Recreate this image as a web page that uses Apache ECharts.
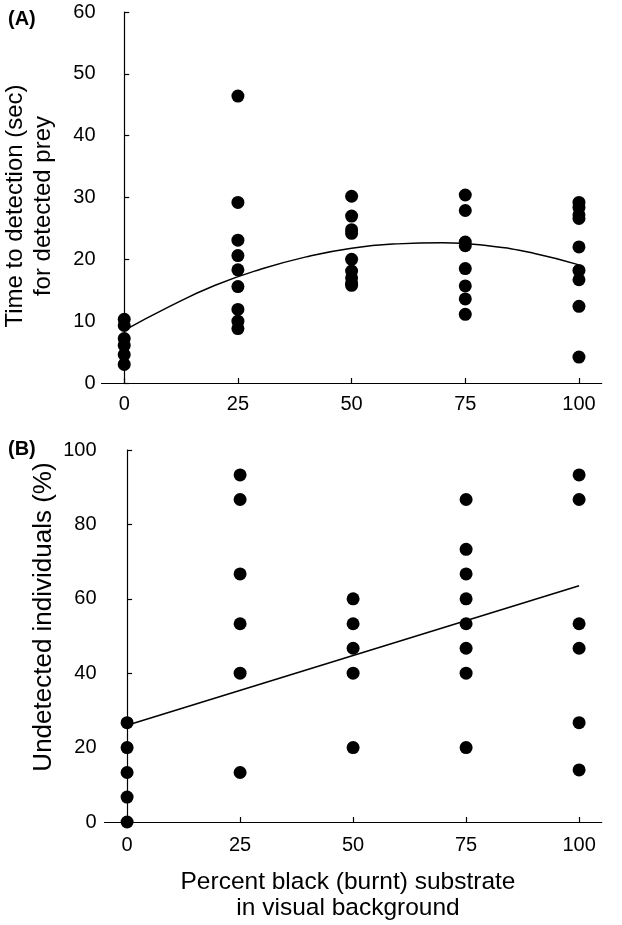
<!DOCTYPE html>
<html>
<head>
<meta charset="utf-8">
<script src="https://cdn.jsdelivr.net/npm/echarts@6/dist/echarts.min.js"></script>
<style>
html,body{margin:0;padding:0;background:#fff;}
#chart{width:622px;height:925px;}
</style>
</head>
<body>
<div id="chart"></div>
<script>
// ---- data ----
const xTicks = [0, 25, 50, 75, 100];

// Panel A: time to detection (sec) for detected prey
const timeAt0   = [10.3, 9.3, 7.2, 6.1, 4.6, 3.0];
const timeAt25  = [46.4, 29.2, 23.1, 20.6, 18.3, 15.6, 11.9, 10.0, 8.8];
const timeAt50  = [30.2, 27.0, 24.8, 24.2, 20.0, 18.1, 17.0, 16.1, 15.8];
const timeAt75  = [30.4, 27.9, 22.8, 22.2, 18.5, 15.7, 13.6, 11.1];
const timeAt100 = [29.2, 28.4, 27.2, 26.6, 22.0, 18.2, 16.7, 12.4, 4.2];

// Panel A fitted curve
const fitAx = [0, 10, 20, 30, 40, 50, 60, 70, 80, 90, 100];
const fitAy = [8.5, 12.4, 15.8, 18.4, 20.4, 21.8, 22.5, 22.7, 22.2, 21.0, 19.1];

// Panel B: undetected individuals (%)
const undetAt0   = [26.7, 20.0, 13.3, 6.7, 0.0];
const undetAt25  = [93.3, 86.7, 66.7, 53.3, 40.0, 13.3];
const undetAt50  = [60.0, 53.3, 46.7, 40.0, 20.0];
const undetAt75  = [86.7, 73.3, 66.7, 60.0, 53.3, 46.7, 40.0, 20.0];
const undetAt100 = [93.3, 86.7, 53.3, 46.7, 26.7, 14.0];

// Panel B fitted line
const fitBx = [0, 100];
const fitBy = [26.0, 63.5];

// ---- build ----
function pairs(x, ys) { return ys.map(v => [x, v]); }
const groupsA = [timeAt0, timeAt25, timeAt50, timeAt75, timeAt100];
const groupsB = [undetAt0, undetAt25, undetAt50, undetAt75, undetAt100];
const ptsA = [].concat(...groupsA.map((g, i) => pairs(xTicks[i], g)));
const ptsB = [].concat(...groupsB.map((g, i) => pairs(xTicks[i], g)));
const curveA = fitAx.map((x, i) => [x, fitAy[i]]);
const lineB = fitBx.map((x, i) => [x, fitBy[i]]);

const FONT = '"Liberation Sans", Arial, Helvetica, sans-serif';
const tickFont = { color: '#000', fontSize: 20, fontFamily: FONT };
const axisLine = { show: true, lineStyle: { color: '#000', width: 1.2 } };

function xAxis(gridIndex, margin) {
  return {
    type: 'value', gridIndex, min: -5, max: 105,
    axisLine, splitLine: { show: false },
    axisTick: { show: true, inside: true, length: 5, customValues: xTicks, lineStyle: { color: '#000', width: 1.2 } },
    axisLabel: Object.assign({ margin, customValues: xTicks }, tickFont)
  };
}
function yAxis(gridIndex, max, interval, margin) {
  return {
    type: 'value', gridIndex, min: 0, max, interval,
    axisLine, splitLine: { show: false },
    axisTick: { show: true, inside: true, length: 5, lineStyle: { color: '#000', width: 1.2 } },
    axisLabel: Object.assign({ margin }, tickFont)
  };
}

const dot = { color: '#000', opacity: 1 };

const chart = echarts.init(document.getElementById('chart'), null, { renderer: 'canvas' });
chart.setOption({
  backgroundColor: '#fff',
  animation: false,
  grid: [
    { left: 101.5, right: 20.3, top: 12, height: 371 },
    { left: 104.5, right: 20.3, top: 450, height: 372 }
  ],
  xAxis: [xAxis(0, 11), xAxis(1, 13)],
  yAxis: [yAxis(0, 60, 10, 6), yAxis(1, 100, 20, 8)],
  series: [
    { type: 'scatter', xAxisIndex: 0, yAxisIndex: 0, data: ptsA, symbol: 'circle', symbolSize: 13,
      itemStyle: dot, emphasis: { disabled: true }, z: 3 },
    { type: 'line', xAxisIndex: 0, yAxisIndex: 0, data: curveA, smooth: true, symbol: 'none',
      lineStyle: { color: '#000', width: 1.5 }, z: 2 },
    { type: 'scatter', xAxisIndex: 1, yAxisIndex: 1, data: ptsB, symbol: 'circle', symbolSize: 13,
      itemStyle: dot, emphasis: { disabled: true }, z: 3, clip: false },
    { type: 'line', xAxisIndex: 1, yAxisIndex: 1, data: lineB, symbol: 'none',
      lineStyle: { color: '#000', width: 1.5 }, z: 2 }
  ],
  graphic: [
    { type: 'text', left: 8, top: 9, style: { text: '(A)', font: 'bold 20px ' + FONT, fill: '#000' } },
    { type: 'text', left: 8, top: 439, style: { text: '(B)', font: 'bold 20px ' + FONT, fill: '#000' } },
    { type: 'text', x: 15, y: 206, rotation: Math.PI / 2,
      style: { text: 'Time to detection (sec)', font: '24px ' + FONT, fill: '#000', align: 'center', verticalAlign: 'middle' } },
    { type: 'text', x: 43, y: 206, rotation: Math.PI / 2,
      style: { text: 'for detected prey', font: '24px ' + FONT, fill: '#000', align: 'center', verticalAlign: 'middle' } },
    { type: 'text', x: 44, y: 617, rotation: Math.PI / 2,
      style: { text: 'Undetected individuals (%)', font: '26px ' + FONT, fill: '#000', align: 'center', verticalAlign: 'middle' } },
    { type: 'text', x: 348, y: 882,
      style: { text: 'Percent black (burnt) substrate', font: '24.5px ' + FONT, fill: '#000', align: 'center', verticalAlign: 'middle' } },
    { type: 'text', x: 348, y: 908,
      style: { text: 'in visual background', font: '24.5px ' + FONT, fill: '#000', align: 'center', verticalAlign: 'middle' } }
  ]
});
</script>
</body>
</html>
